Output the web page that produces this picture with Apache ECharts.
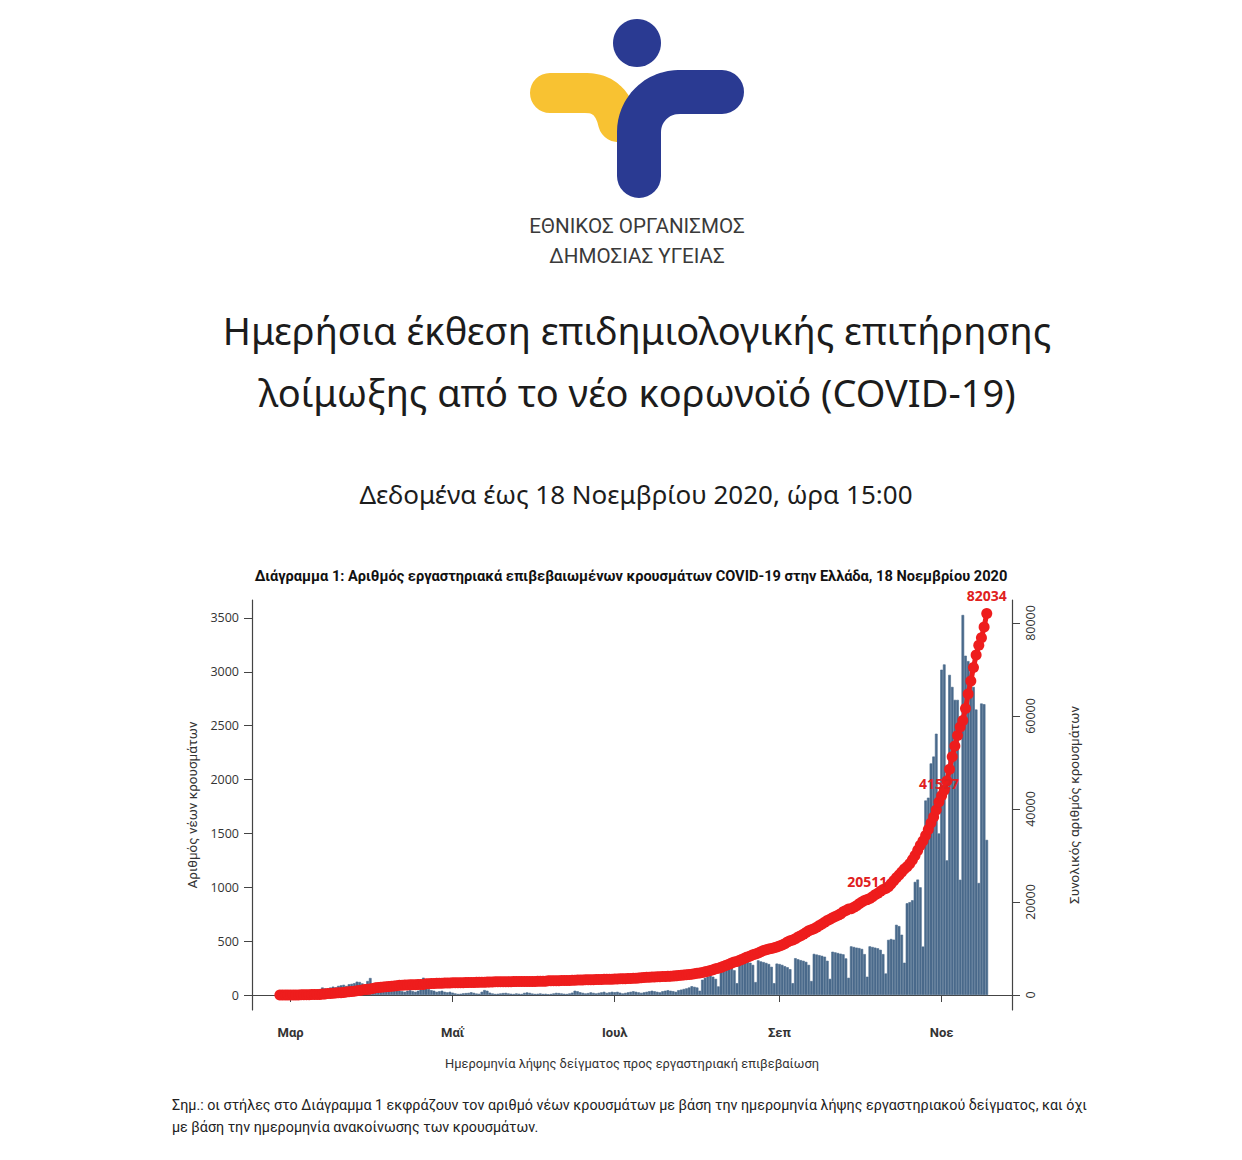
<!DOCTYPE html>
<html>
<head>
<meta charset="utf-8">
<script src="https://cdn.jsdelivr.net/npm/echarts@6/dist/echarts.min.js"></script>
<style>
html,body{margin:0;padding:0;background:#fff;}
#chart{width:1242px;height:1160px;}
</style>
</head>
<body>
<div id="chart"></div>
<script>
// ---------------- DATA ----------------
// axis range (days shown on the category axis)
const axisStart = '2020-02-16';
const axisEnd = '2020-11-27';
const dataStart = '2020-02-26';

// daily new cases by sample date
const casesFeb = [1, 2, 2, 1];
const casesMar = [0, 2, 0, 4, 10, 18, 22, 25, 30, 48, 40, 55, 70, 62, 58, 70, 78, 72, 85, 90, 95, 84, 100, 104, 110, 124, 121, 108, 96, 130, 158];
const casesApr = [95, 102, 86, 76, 70, 64, 60, 56, 52, 48, 40, 35, 30, 40, 45, 36, 30, 40, 50, 161, 70, 55, 45, 40, 30, 35, 40, 30, 25, 30];
const casesMay = [22, 15, 10, 12, 16, 18, 20, 26, 20, 14, 12, 30, 46, 40, 22, 15, 10, 12, 15, 18, 20, 15, 12, 10, 15, 12, 10, 20, 24, 20, 14];
const casesJun = [10, 12, 15, 10, 12, 8, 10, 15, 20, 18, 15, 12, 10, 15, 22, 40, 35, 26, 20, 15, 18, 25, 20, 15, 20, 25, 30, 20, 25, 30];
const casesJul = [26, 30, 22, 15, 20, 25, 30, 35, 30, 25, 20, 25, 30, 35, 40, 35, 30, 25, 35, 40, 45, 40, 36, 30, 45, 50, 56, 62, 70, 82, 76];
const casesAug = [70, 40, 142, 160, 172, 180, 170, 150, 80, 222, 248, 270, 282, 262, 230, 110, 332, 320, 318, 310, 300, 280, 120, 322, 312, 306, 298, 288, 262, 110, 292];
const casesSep = [288, 280, 268, 258, 240, 110, 342, 332, 324, 318, 308, 280, 130, 382, 376, 370, 364, 356, 318, 150, 402, 396, 390, 384, 378, 340, 160, 452, 446, 440];
const casesOct = [436, 428, 380, 170, 452, 446, 440, 434, 420, 380, 200, 512, 520, 514, 652, 640, 560, 300, 852, 862, 880, 1050, 1072, 1000, 450, 1806, 1832, 2150, 2214, 2426, 1500];
const casesNov = [3020, 3069, 1250, 2972, 2860, 2740, 2740, 1070, 3528, 3150, 3100, 3000, 2860, 2650, 1040, 2706, 2700, 1440];

// cumulative total cases
const cumFeb = [1, 3, 4, 7];
const cumMar = [7, 7, 7, 9, 31, 45, 66, 73, 84, 89, 99, 117, 190, 228, 331, 331, 387, 418, 464, 495, 530, 624, 695, 743, 821, 892, 966, 1061, 1156, 1212, 1314];
const cumApr = [1415, 1544, 1613, 1673, 1735, 1755, 1832, 1884, 1955, 2011, 2081, 2114, 2145, 2170, 2192, 2207, 2224, 2235, 2235, 2245, 2401, 2408, 2463, 2490, 2506, 2517, 2534, 2566, 2576, 2591];
const cumMay = [2612, 2620, 2626, 2632, 2642, 2663, 2678, 2691, 2710, 2716, 2726, 2744, 2760, 2770, 2810, 2819, 2834, 2836, 2840, 2850, 2853, 2873, 2876, 2878, 2882, 2892, 2903, 2906, 2909, 2915, 2917];
const cumJun = [2918, 2937, 2952, 2967, 2980, 3049, 3058, 3060, 3083, 3088, 3108, 3112, 3121, 3134, 3148, 3148, 3203, 3227, 3237, 3256, 3266, 3287, 3302, 3310, 3340, 3343, 3366, 3376, 3390, 3409];
const cumJul = [3432, 3458, 3486, 3511, 3519, 3535, 3562, 3589, 3622, 3672, 3732, 3772, 3803, 3826, 3854, 3883, 3910, 3939, 3964, 3983, 4007, 4048, 4077, 4115, 4193, 4227, 4279, 4336, 4401, 4477, 4587];
const cumAug = [4662, 4737, 4855, 4973, 5123, 5270, 5421, 5623, 5749, 5942, 6177, 6381, 6632, 6858, 7075, 7222, 7472, 7684, 7953, 8197, 8381, 8664, 8819, 9008, 9280, 9558, 9741, 9880, 10022, 10177, 10317];
const cumSep = [10524, 10757, 10998, 11386, 11663, 11832, 12080, 12452, 12734, 13083, 13448, 13820, 14051, 14252, 14563, 14934, 15271, 15629, 16008, 16286, 16627, 16883, 17174, 17444, 17898, 18190, 18475, 18535, 18886, 19177];
const cumOct = [19613, 20004, 20310, 20511, 20761, 21111, 21571, 21871, 22331, 22671, 22901, 23300, 23900, 24550, 25200, 25800, 26450, 27100, 27600, 28216, 29057, 30000, 31100, 32200, 33100, 34300, 35600, 37000, 38300, 39800, 41527];
const cumNov = [42827, 44027, 46027, 48527, 51227, 53527, 55827, 57627, 59027, 61627, 64727, 67527, 70427, 73127, 75227, 76827, 79127, 82034];

// cumulative points that carry a label
const labelledDates = ['2020-10-04', '2020-10-31', '2020-11-18'];

// tick labels
const leftTicks = [0, 500, 1000, 1500, 2000, 2500, 3000, 3500];
const rightTicks = [0, 20000, 40000, 60000, 80000];
const monthLabels = {'03': 'Μαρ', '05': 'Μαΐ', '07': 'Ιουλ', '09': 'Σεπ', '11': 'Νοε'};

// ---------------- BUILD ----------------
function dateSeq(a, b) {
  const out = [];
  const d = new Date(a + 'T00:00:00Z');
  const e = new Date(b + 'T00:00:00Z');
  while (d <= e) { out.push(d.toISOString().slice(0, 10)); d.setUTCDate(d.getUTCDate() + 1); }
  return out;
}
const categories = dateSeq(axisStart, axisEnd);
const dailyCases = [].concat(casesFeb, casesMar, casesApr, casesMay, casesJun, casesJul, casesAug, casesSep, casesOct, casesNov);
const cumulative = [].concat(cumFeb, cumMar, cumApr, cumMay, cumJun, cumJul, cumAug, cumSep, cumOct, cumNov);
const offset = categories.indexOf(dataStart);

const barData = categories.map((d, i) => {
  const v = dailyCases[i - offset];
  return v === undefined ? null : v;
});
const lineData = categories.map((d, i) => {
  const v = cumulative[i - offset];
  if (v === undefined) return null;
  if (labelledDates.indexOf(d) >= 0) return {value: v, label: {show: true}};
  return v;
});

function isMonthTick(val) { return val.slice(8) === '01' && monthLabels[val.slice(5, 7)] !== undefined; }

// ---- logo outline helpers (decoration only) ----
function arcPts(cx, cy, r, a0, a1, n) {
  const p = [];
  for (let k = 0; k <= n; k++) { const a = a0 + (a1 - a0) * k / n; p.push([cx + r * Math.cos(a), cy + r * Math.sin(a)]); }
  return p;
}
function bezPts(p0, p1, p2, p3, n) {
  const p = [];
  for (let k = 0; k <= n; k++) {
    const t = k / n, u = 1 - t;
    p.push([u*u*u*p0[0] + 3*u*u*t*p1[0] + 3*u*t*t*p2[0] + t*t*t*p3[0],
            u*u*u*p0[1] + 3*u*u*t*p1[1] + 3*u*t*t*p2[1] + t*t*t*p3[1]]);
  }
  return p;
}
const bluePts = [[639, 176]].concat(arcPts(679, 132, 40, Math.PI, Math.PI * 1.5, 16)).concat([[722, 92]]);
const yellowPts = [[550, 93]].concat(bezPts([586, 93], [604, 93], [614, 104], [618, 122], 12));

const axisColor = '#444';
const barColor = '#4a6a8b';
const rob = 'Roboto,"DejaVu Sans",sans-serif';

function txt(text, x, y, font, align, fill) {
  return {type: 'text',
    style: {text: text, x: x, y: y, font: font, fill: fill || '#1c1c1c',
      textAlign: align || 'center', textVerticalAlign: 'middle', align: align || 'center', verticalAlign: 'middle'}};
}

const chart = echarts.init(document.getElementById('chart'), null, {renderer: 'svg'});
chart.setOption({
  animation: false,
  backgroundColor: '#ffffff',
  graphic: [
    {type: 'polyline', shape: {points: yellowPts},
     style: {fill: null, stroke: '#f8c232', lineWidth: 40, lineCap: 'round', lineJoin: 'round'}},
    {type: 'polyline', shape: {points: bluePts},
     style: {fill: null, stroke: '#2a3a92', lineWidth: 44, lineCap: 'round', lineJoin: 'round'}},
    {type: 'circle', shape: {cx: 637, cy: 43, r: 24}, style: {fill: '#2a3a92'}},
    txt('ΕΘΝΙΚΟΣ ΟΡΓΑΝΙΣΜΟΣ', 637, 226, '20.6px ' + rob, 'center', '#3a3a3a'),
    txt('ΔΗΜΟΣΙΑΣ ΥΓΕΙΑΣ', 637, 256, '20.6px ' + rob, 'center', '#3a3a3a'),
    txt('Ημερήσια έκθεση επιδημιολογικής επιτήρησης', 637, 330, '38px "Noto Sans",sans-serif'),
    txt('λοίμωξης από το νέο κορωνοϊό (COVID-19)', 637, 392, '38px "Noto Sans",sans-serif'),
    txt('Δεδομένα έως 18 Νοεμβρίου 2020, ώρα 15:00', 636, 494, '26px "Noto Sans",sans-serif'),
    txt('Διάγραμμα 1: Αριθμός εργαστηριακά επιβεβαιωμένων κρουσμάτων COVID-19 στην Ελλάδα, 18 Νοεμβρίου 2020', 631, 576, 'bold 14.6px ' + rob, 'center', '#111'),
    txt('Σημ.: οι στήλες στο Διάγραμμα 1 εκφράζουν τον αριθμό νέων κρουσμάτων με βάση την ημερομηνία λήψης εργαστηριακού δείγματος, και όχι', 172, 1105, '14.3px ' + rob, 'left', '#222'),
    txt('με βάση την ημερομηνία ανακοίνωσης των κρουσμάτων.', 172, 1127, '14.3px ' + rob, 'left', '#222')
  ],
  grid: {left: 252, right: 230, top: 600, bottom: 150, containLabel: false},
  xAxis: {
    type: 'category', data: categories, boundaryGap: true,
    axisLine: {show: true, lineStyle: {color: axisColor, width: 1.2}},
    axisTick: {show: true, alignWithLabel: true, length: 7, interval: (i, v) => isMonthTick(v), lineStyle: {color: axisColor}},
    axisLabel: {interval: (i, v) => isMonthTick(v), formatter: v => monthLabels[v.slice(5, 7)], margin: 16,
      fontFamily: rob, fontSize: 13, fontWeight: 'bold', color: '#333'},
    splitLine: {show: false},
    name: 'Ημερομηνία λήψης δείγματος προς εργαστηριακή επιβεβαίωση', nameLocation: 'middle', nameGap: 47,
    nameTextStyle: {fontFamily: rob, fontSize: 12.9, color: '#333'}
  },
  yAxis: [
    {
      type: 'value', position: 'left', min: -139, max: 3667,
      axisLine: {show: true, lineStyle: {color: axisColor, width: 1.2}},
      axisTick: {show: true, customValues: leftTicks, length: 8, lineStyle: {color: axisColor}},
      axisLabel: {customValues: leftTicks, formatter: v => String(v), margin: 13, fontFamily: '"Open Sans",sans-serif', fontSize: 12.5, color: '#333'},
      splitLine: {show: false},
      name: 'Αριθμός νέων κρουσμάτων', nameLocation: 'middle', nameGap: 53, nameRotate: 90,
      nameTextStyle: {fontFamily: rob, fontSize: 13.5, color: '#333'}
    },
    {
      type: 'value', position: 'right', min: -3226, max: 84946,
      axisLine: {show: true, lineStyle: {color: axisColor, width: 1.2}},
      axisTick: {show: true, customValues: rightTicks, length: 8, lineStyle: {color: axisColor}},
      axisLabel: {customValues: rightTicks, formatter: v => String(v), rotate: 90, margin: 12, fontFamily: '"Open Sans",sans-serif', fontSize: 12.5, color: '#333'},
      splitLine: {show: false},
      name: 'Συνολικός αριθμός κρουσμάτων', nameLocation: 'middle', nameGap: 55, nameRotate: 90,
      nameTextStyle: {fontFamily: rob, fontSize: 13.5, color: '#333'}
    }
  ],
  series: [
    {
      type: 'bar', name: 'Νέα κρούσματα', data: barData, yAxisIndex: 0,
      barCategoryGap: '0%', itemStyle: {color: barColor, borderColor: barColor, borderWidth: 0.6}
    },
    {
      type: 'line', name: 'Συνολικά κρούσματα', data: lineData, yAxisIndex: 1, z: 5,
      symbol: 'circle', symbolSize: 11, showAllSymbol: true, connectNulls: false,
      itemStyle: {color: '#ee1d1d'}, lineStyle: {color: '#ee1d1d', width: 5},
      label: {show: false, position: 'top', distance: 6, color: '#e02020', fontWeight: 'bold', fontSize: 14,
        fontFamily: '"Open Sans",sans-serif'}
    }
  ]
});
</script>
</body>
</html>
